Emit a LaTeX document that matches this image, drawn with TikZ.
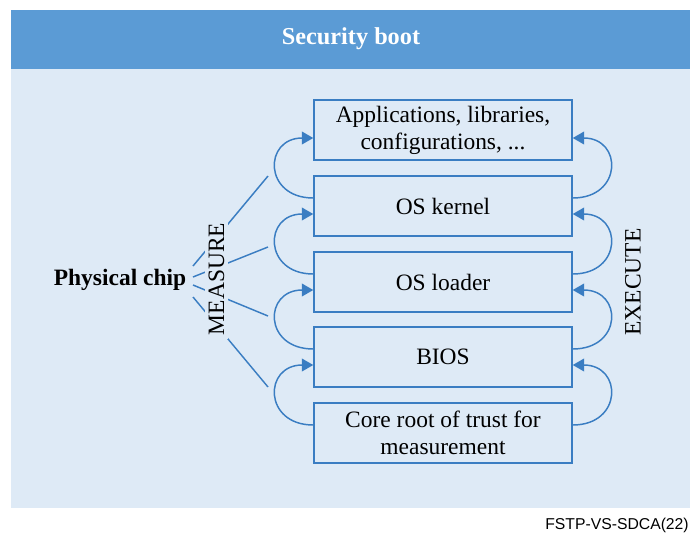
\documentclass[tikz,border=0pt]{standalone}
\usepackage{fontspec}
\setmainfont{Liberation Serif}
\newfontfamily\footfont{Liberation Sans}
\usetikzlibrary{arrows.meta,calc}

\definecolor{headblue}{HTML}{5B9BD5}
\definecolor{panelblue}{HTML}{DEEAF6}
\definecolor{lineblue}{HTML}{3A7DC2}

\tikzset{
  layer/.style={draw=lineblue, line width=1.1pt, fill=panelblue,
    minimum width=193.5pt, minimum height=45pt, inner sep=0pt,
    align=center, font=\fontsize{17.6}{20.3}\selectfont},
  chain/.style={draw=lineblue, line width=1.1pt,
    -{Triangle[length=8.5pt,width=9.5pt]}},
  ray/.style={draw=lineblue, line width=1.1pt},
  sidelabel/.style={rotate=90, font=\fontsize{17.6}{20}\selectfont,
    fill=panelblue, inner sep=2.6pt}
}

\begin{document}
\begin{tikzpicture}[x=0.75pt, y=-0.75pt]
  \useasboundingbox (0,0) rectangle (690,533);

  % background panel and title bar
  \fill[panelblue] (11,69) rectangle (690,508);
  \fill[headblue] (11,10) rectangle (690,69);
  \node[text=white, font=\bfseries\fontsize{18.2}{21}\selectfont] (title) at (351,39) {Security boot};

  % boot chain layers
  \node[layer] (apps) at (443,130) {Applications, libraries,\\configurations, ...};
  \node[layer] (kernel) at (443,206) {OS kernel};
  \node[layer] (loader) at (443,282) {OS loader};
  \node[layer] (bios) at (443,357) {BIOS};
  \node[layer] (crtm) at (443,433) {Core root of trust for\\measurement};

  % measurement arcs (left) and execution arcs (right)
  \foreach \lo/\hi in {crtm/bios, bios/loader, loader/kernel, kernel/apps}{
    \draw[chain] ($(\lo.west)+(0,-8)$) .. controls +(-50,0) and +(-50,0) .. ($(\hi.west)+(0,8)$);
    \draw[chain] ($(\lo.east)+(0,-8)$) .. controls +(50,0) and +(50,0) .. ($(\hi.east)+(0,8)$);
  }

  % physical chip and its measurement rays
  \node[font=\bfseries\fontsize{17.6}{20}\selectfont] (chip) at (120,280) {Physical chip};
  \coordinate (s1) at (193,266);
  \coordinate (s2) at (193,277);
  \coordinate (s3) at (193,285);
  \coordinate (s4) at (193,297);
  \coordinate (e1) at (268,176);
  \coordinate (e2) at (268,247);
  \coordinate (e3) at (268,316);
  \coordinate (e4) at (268,387);
  \foreach \i in {1,...,4}{
    \draw[ray] (s\i) -- (e\i);
  }
  \node[sidelabel] (measure) at (216.5,279) {MEASURE};
  \node[sidelabel] (execute) at (633,282) {EXECUTE};

  % figure reference
  \node[anchor=east, inner sep=0pt, font=\footfont\fontsize{11.8}{14}\selectfont] (ref) at (689,525.5) {FSTP-VS-SDCA(22)};
\end{tikzpicture}
\end{document}
